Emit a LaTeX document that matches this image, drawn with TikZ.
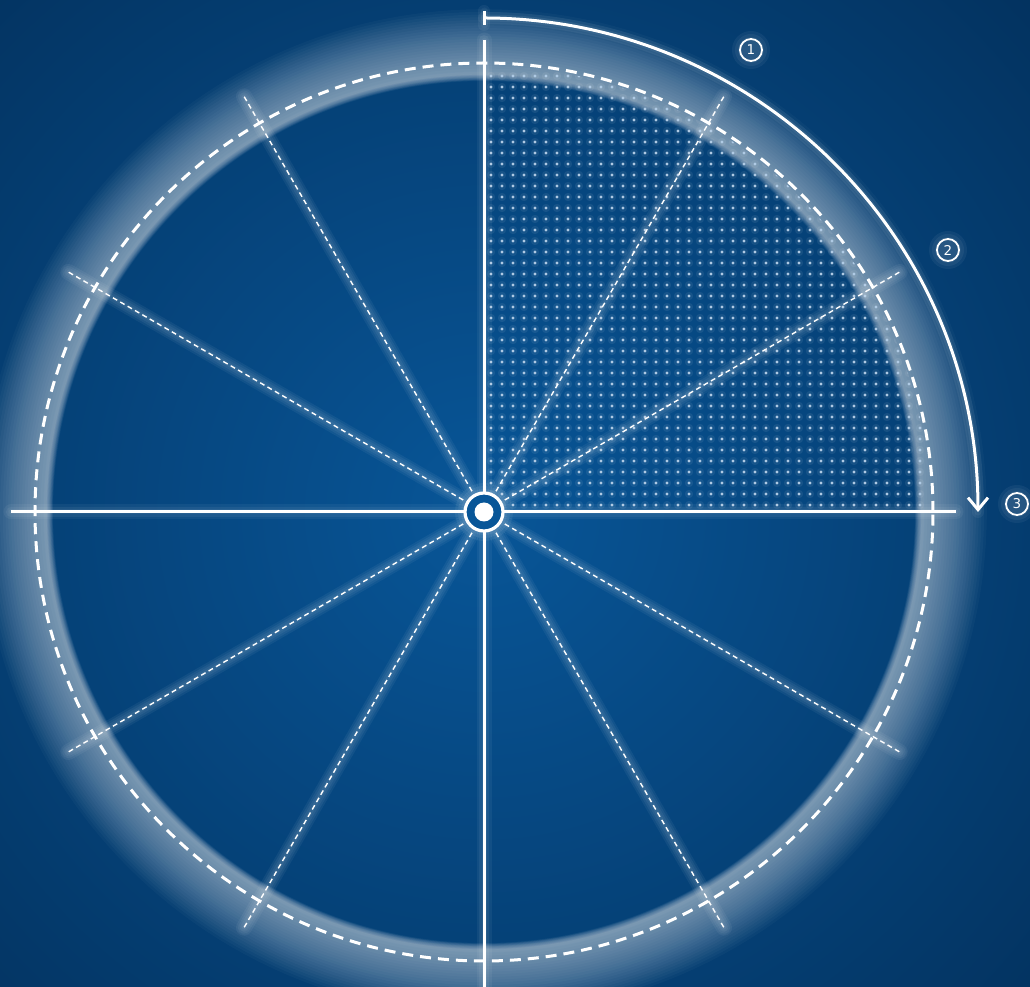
\documentclass[tikz,border=0pt]{standalone}
\usepackage{fontspec}
\newfontfamily\labfont{DejaVu Sans}
\usetikzlibrary{arrows.meta}
\definecolor{bgin}{RGB}{8,86,152}
\definecolor{bgout}{RGB}{3,50,95}
\definecolor{dotc}{RGB}{175,202,228}
\begin{document}
\begin{tikzpicture}[x=1pt,y=1pt,
  softglow/.style={white, opacity=0.05, line cap=round},
  spoke/.style={white, line width=1.4pt, dash pattern=on 5pt off 3.5pt},
  axisline/.style={white, line width=3pt},
  rimline/.style={white, line width=3pt, dash pattern=on 11pt off 7pt},
  numlabel/.style={circle, draw=white, line width=1.8pt, text=white, minimum size=22pt, inner sep=0pt, font=\labfont\fontsize{13.5}{13.5}\selectfont}
]
\useasboundingbox (-484,-475) rectangle (546,512);
\begin{scope}
  \clip (-484,-475) rectangle (546,512);
  \shade[inner color=bgin, outer color=bgout] (0,0) circle (760);
\end{scope}
\coordinate (C) at (0,0);
% glow ring: soft inner edge near r=431, fading outwards
\foreach \w in {3,6,...,72}
  \draw[white, opacity=0.029, line width=\w pt] (C) circle ({438-\w/10+\w/2});
\foreach \w in {4,8}
  \draw[white, opacity=0.025, line width=\w pt] (C) circle (436);
% dotted grid in upper right quadrant
\begin{scope}
  \clip (0,0) rectangle (460,460);
  \clip (C) circle (446);
  \fill[white, opacity=0.07] \foreach \i in {0,...,39}{\foreach \j in {0,...,39}{(7+11*\i,7+11*\j) circle (4.2)}};
  \fill[dotc] \foreach \i in {0,...,39}{\foreach \j in {0,...,39}{(7+11*\i,7+11*\j) circle (1.7)}};
\end{scope}
% spoke glows
\foreach \a in {30,60,120,150,210,240,300,330}{
  \foreach \w in {4,8,12,16}
    \draw[softglow, line width=\w pt] (\a:24) -- (\a:480);
}
% axis glows
\foreach \w in {5,10,15}{
  \draw[softglow, line width=\w pt] (-473,0) -- (472,0);
  \draw[softglow, line width=\w pt] (0,472) -- (0,-475);
}
% dashed rim
\draw[rimline] (C) circle (449);
% spokes
\foreach \a in {30,60,120,150,210,240,300,330}
  \draw[spoke] (\a:24) -- (\a:480);
% axes
\coordinate (L) at (-473,0);
\coordinate (R) at (472,0);
\coordinate (T) at (0,472);
\coordinate (B) at (0,-478);
\draw[axisline] (L) -- (R);
\draw[axisline] (T) -- (B);
% centre
\foreach \w in {8,14,20}
  \draw[white, opacity=0.06, line width=\w pt] (C) circle (19);
\filldraw[fill=bgin, draw=white, line width=3.2pt] (C) circle (19);
\fill[white] (C) circle (9.5);
% arc with arrow
\coordinate (A) at (0,494);
\coordinate (At) at (0,501);
\coordinate (Ab) at (0,487);
\foreach \w in {7,12}{
  \draw[softglow, line width=\w pt] (A) arc[start angle=90, end angle=0, radius=494];
  \draw[softglow, line width=\w pt] (At) -- (Ab);
}
\draw[white, line width=3pt, -{Straight Barb[length=12pt,width=20pt,line width=3pt]}] (A) arc[start angle=90, end angle=0, radius=494];
\draw[white, line width=3pt] (At) -- (Ab);
% labels
\foreach \p in {{(267,462)}, {(464,262)}, {(533,8)}}{
  \foreach \r in {13,16,19}
    \fill[white, opacity=0.05] \p circle (\r);
}
\node[numlabel] (n1) at (267,462) {1};
\node[numlabel] (n2) at (464,262) {2};
\node[numlabel] (n3) at (533,8) {3};
\end{tikzpicture}
\end{document}
